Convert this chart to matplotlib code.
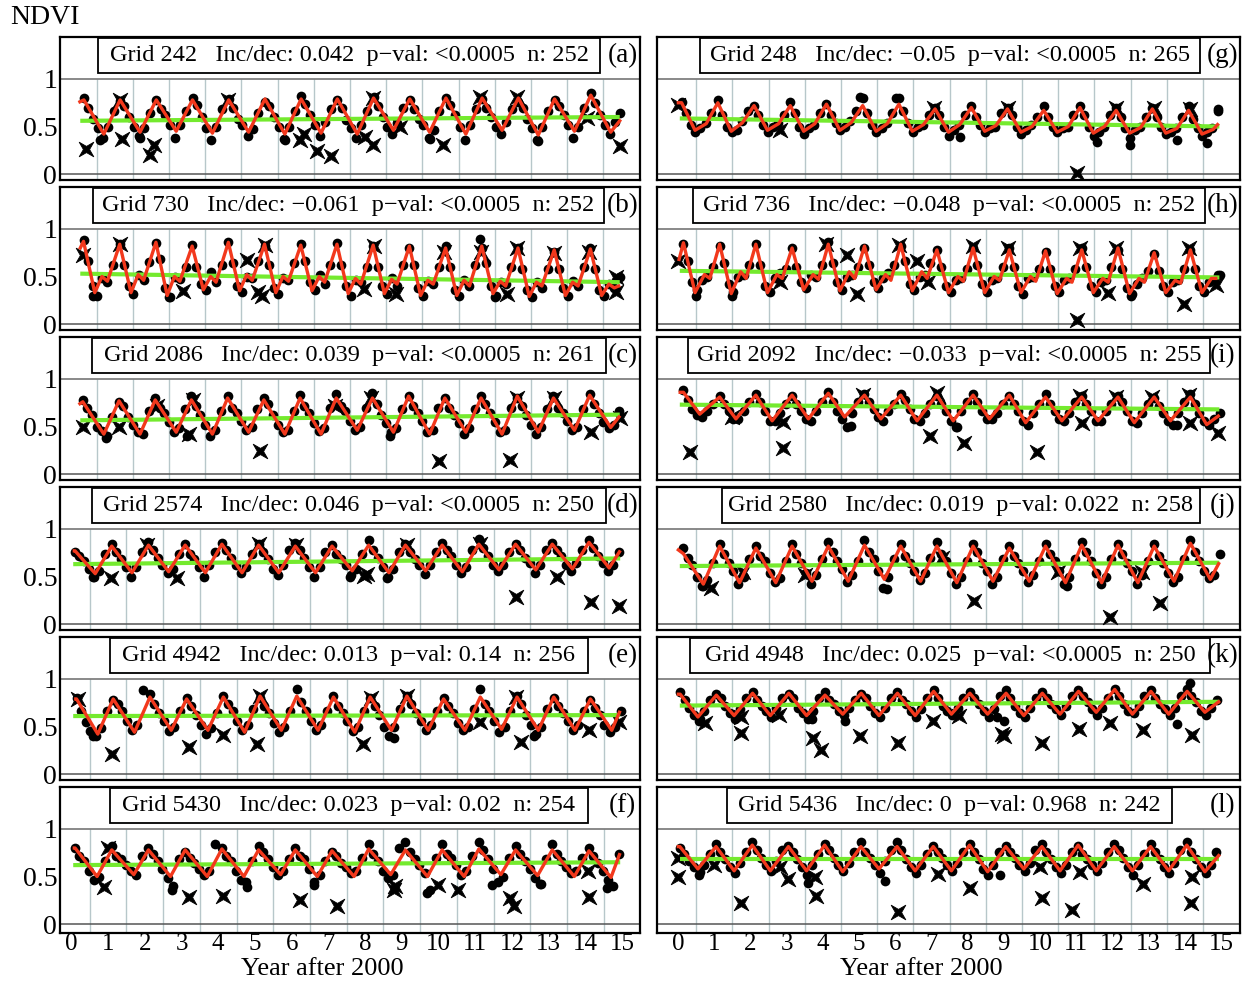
import numpy as np
import matplotlib.pyplot as plt
from matplotlib.patches import Rectangle
from matplotlib.path import Path

plt.rcParams['font.family'] = ['Liberation Serif', 'DejaVu Serif']

# ---- panel headers ----
letters = ['a', 'b', 'c', 'd', 'e', 'f', 'g', 'h', 'i', 'j', 'k', 'l']
grids = [242, 730, 2086, 2574, 4942, 5430, 248, 736, 2092, 2580, 4948, 5436]
incdec = ['0.042', '\u22120.061', '0.039', '0.046', '0.013', '0.023',
          '\u22120.05', '\u22120.048', '\u22120.033', '0.019', '0.025', '0']
pvals = ['<0.0005', '<0.0005', '<0.0005', '<0.0005', '0.14', '0.02',
         '<0.0005', '<0.0005', '<0.0005', '0.022', '<0.0005', '0.968']
counts = [252, 252, 261, 250, 256, 254, 265, 252, 255, 258, 250, 242]

# dot positions inside each season, measured from the peak
dot_off = [0.0, 0.12, 0.25, 0.38, 0.52, 0.66, 0.82]

# ---- (a) Grid 242 ----
a_trend = [0.56, 0.60]
a_ends = [(0.04, 0.76), (14.95, 0.56)]
a_peak = [0.78, 0.78, 0.78, 0.78, 0.78, 0.79, 0.79, 0.79, 0.80, 0.79, 0.80, 0.80, 0.80, 0.79, 0.83]
a_trough = [0.42, 0.44, 0.45, 0.43, 0.44, 0.42, 0.43, 0.42, 0.46, 0.44, 0.42, 0.46, 0.41, 0.45, 0.44]
a_red = [(0.15, a_peak), (0.70, a_trough)]
a_dots = [[.80, .70, .58, .48, .38, .50, .66], [.77, .72, .60, .50, .40, .48, .64],
          [.78, .68, .62, .52, .38, .52, .66], [.80, .73, .60, .48, .36, .50, .68],
          [.79, .70, .58, .52, .40, .47, .64], [.76, .72, .60, .50, .37, .50, .66],
          [.82, .74, .62, .52, .40, .55, .68], [.78, .70, .57, .48, .38, .52, .66],
          [.81, .72, .60, .50, .42, .54, .70], [.78, .68, .58, .52, .38, .46, .66],
          [.80, .73, .62, .50, .36, .52, .68], [.79, .70, .60, .50, .42, .55, .68],
          [.76, .70, .58, .48, .36, .50, .66], [.78, .72, .62, .52, .38, .50, .70],
          [.85, .75, .62, .52, .42, .55, .64]]
a_extra = [(0.6, 0.36), (1.7, 0.38), (5.7, 0.36), (9.7, 0.37), (12.7, 0.35)]
a_cross = [(0.21, 0.26), (1.20, 0.37), (1.98, 0.20), (2.09, 0.31), (6.12, 0.36), (6.23, 0.42),
           (6.59, 0.24), (6.98, 0.19), (8.14, 0.31), (7.92, 0.39), (8.88, 0.49), (10.07, 0.31),
           (14.05, 0.59), (14.96, 0.29), (1.15, 0.78), (8.14, 0.80), (11.1, 0.81), (12.1, 0.81),
           (4.13, 0.78)]

# ---- (b) Grid 730 ----
b_trend = [0.53, 0.44]
b_ends = [(0.05, 0.80), (14.92, 0.40)]
b_peak = [0.87, 0.84, 0.86, 0.82, 0.86, 0.84, 0.83, 0.84, 0.83, 0.82, 0.80, 0.82, 0.80, 0.78, 0.79]
b_trough = [0.33, 0.33, 0.30, 0.36, 0.35, 0.33, 0.35, 0.32, 0.32, 0.30, 0.30, 0.32, 0.29, 0.30, 0.30]
b_shoulder = [0.50, 0.52, 0.50, 0.50, 0.52, 0.50, 0.50, 0.48, 0.47, 0.46, 0.46, 0.45, 0.44, 0.44, 0.42]
b_dip = [0.45, 0.46, 0.45, 0.44, 0.46, 0.45, 0.44, 0.42, 0.42, 0.42, 0.40, 0.40, 0.40, 0.40, 0.38]
b_red = [(0.14, b_peak), (0.45, b_trough), (0.65, b_shoulder), (0.80, b_dip)]
b_dots = [[.88, .66, .40, .30, .48, .44, .62], [.84, .62, .40, .32, .52, .46, .65],
          [.85, .68, .38, .28, .50, .47, .60], [.83, .60, .42, .36, .55, .44, .62],
          [.86, .64, .40, .34, .50, .48, .66], [.82, .62, .38, .32, .48, .46, .64],
          [.84, .66, .44, .36, .52, .42, .62], [.85, .62, .40, .30, .46, .44, .60],
          [.82, .60, .40, .32, .48, .40, .62], [.80, .62, .38, .30, .45, .42, .60],
          [.82, .60, .36, .30, .46, .40, .62], [.80, .64, .40, .30, .44, .42, .60],
          [.80, .58, .36, .28, .44, .38, .58], [.76, .58, .38, .30, .45, .40, .60],
          [.80, .58, .36, .30, .42, .38, .50]]
b_extra = [(11.1, 0.89), (0.4, 0.30), (2.5, 0.28), (11.5, 0.28)]
b_cross = [(0.13, 0.73), (2.89, 0.35), (4.66, 0.67), (4.96, 0.34), (5.07, 0.30), (7.88, 0.37),
           (8.76, 0.32), (11.83, 0.32), (14.85, 0.50), (14.85, 0.34), (1.14, 0.84), (5.14, 0.83),
           (8.17, 0.82), (10.11, 0.76), (11.13, 0.76), (12.12, 0.80), (13.13, 0.75), (14.1, 0.76)]

# ---- (c) Grid 2086 ----
c_trend = [0.565, 0.625]
c_ends = [(0.04, 0.74), (14.93, 0.60)]
c_peak = [0.76, 0.77, 0.78, 0.78, 0.80, 0.78, 0.80, 0.80, 0.80, 0.82, 0.80, 0.80, 0.82, 0.80, 0.83]
c_trough = [0.42, 0.42, 0.44, 0.42, 0.44, 0.42, 0.42, 0.46, 0.44, 0.42, 0.44, 0.42, 0.44, 0.46, 0.49]
c_red = [(0.12, c_peak), (0.70, c_trough)]
c_dots = [[.78, .70, .62, .50, .45, .40, .60], [.76, .72, .60, .52, .44, .42, .66],
          [.80, .70, .64, .55, .44, .48, .68], [.82, .72, .62, .52, .40, .46, .66],
          [.82, .70, .64, .56, .46, .50, .68], [.80, .74, .62, .52, .44, .46, .66],
          [.83, .72, .64, .54, .45, .48, .70], [.84, .72, .66, .56, .46, .50, .70],
          [.85, .74, .62, .54, .44, .48, .68], [.82, .72, .64, .56, .44, .46, .70],
          [.80, .70, .62, .54, .42, .48, .68], [.82, .74, .64, .55, .44, .46, .70],
          [.80, .72, .62, .52, .42, .50, .68], [.82, .70, .64, .56, .46, .50, .68],
          [.84, .74, .64, .55, .48, .52, .66]]
c_extra = [(0.75, 0.38), (3.0, 0.40), (8.6, 0.40)]
c_cross = [(0.13, 0.49), (1.12, 0.49), (3.04, 0.42), (5.02, 0.24), (9.96, 0.14), (11.93, 0.15),
           (14.17, 0.44), (14.95, 0.585), (2.16, 0.72), (3.15, 0.78), (7.09, 0.72), (8.09, 0.80),
           (12.12, 0.80), (13.13, 0.80)]

# ---- (d) Grid 2574 ----
d_trend = [0.63, 0.69]
d_ends = [(0.08, 0.77), (14.93, 0.76)]
d_peak = [0.77, 0.82, 0.83, 0.83, 0.84, 0.83, 0.82, 0.82, 0.83, 0.83, 0.83, 0.84, 0.84, 0.84, 0.86]
d_trough = [0.53, 0.54, 0.55, 0.54, 0.54, 0.54, 0.54, 0.56, 0.54, 0.56, 0.55, 0.57, 0.57, 0.58, 0.59]
d_red = [(0.10, d_peak), (0.65, d_trough)]
d_dots = [[.76, .72, .66, .58, .50, .56, .74], [.84, .76, .68, .60, .50, .60, .76],
          [.86, .78, .70, .62, .54, .58, .74], [.84, .74, .68, .60, .50, .62, .76],
          [.85, .78, .70, .62, .54, .60, .74], [.84, .76, .68, .58, .52, .62, .78],
          [.85, .78, .70, .60, .50, .60, .76], [.83, .74, .68, .62, .52, .58, .74],
          [.88, .78, .70, .60, .50, .58, .76], [.84, .76, .68, .62, .53, .62, .76],
          [.85, .78, .72, .62, .54, .60, .78], [.90, .80, .72, .62, .56, .62, .76],
          [.84, .78, .70, .64, .54, .62, .78], [.85, .78, .72, .62, .56, .64, .78],
          [.88, .80, .72, .64, .56, .62, .76]]
d_extra = [(0.6, 0.49), (7.6, 0.49), (8.6, 0.48)]
d_cross = [(1.09, 0.48), (2.89, 0.48), (7.96, 0.51), (8.05, 0.53), (12.11, 0.28), (13.24, 0.49),
           (14.16, 0.23), (14.91, 0.19), (2.07, 0.83), (5.12, 0.84), (6.12, 0.83), (9.14, 0.83),
           (11.12, 0.84)]

# ---- (e) Grid 4942 ----
e_trend = [0.61, 0.62]
e_ends = [(0.12, 0.79), (14.93, 0.65)]
e_peak = [0.79, 0.79, 0.81, 0.79, 0.81, 0.82, 0.82, 0.81, 0.81, 0.82, 0.79, 0.81, 0.81, 0.81, 0.79]
e_trough = [0.42, 0.44, 0.46, 0.46, 0.44, 0.46, 0.46, 0.44, 0.46, 0.46, 0.46, 0.47, 0.46, 0.46, 0.46]
e_red = [(0.14, e_peak), (0.72, e_trough)]
e_dots = [[.80, .66, .55, .45, .40, .48, .66], [.78, .74, .66, .56, .46, .52, .88],
          [.84, .74, .64, .56, .45, .50, .66], [.80, .72, .62, .52, .42, .48, .64],
          [.82, .74, .66, .56, .46, .52, .68], [.80, .72, .64, .54, .44, .50, .66],
          [.89, .76, .66, .56, .46, .52, .66], [.82, .72, .64, .56, .45, .50, .66],
          [.80, .72, .62, .50, .40, .50, .68], [.82, .74, .64, .56, .46, .52, .66],
          [.80, .72, .64, .54, .46, .50, .68], [.90, .74, .66, .56, .44, .50, .66],
          [.82, .74, .62, .52, .42, .50, .68], [.80, .72, .64, .56, .46, .52, .66],
          [.78, .70, .62, .52, .44, .50, .66]]
e_extra = [(0.6, 0.40), (8.8, 0.38), (12.6, 0.40)]
e_cross = [(0.17, 0.79), (1.11, 0.21), (3.2, 0.28), (4.12, 0.41), (5.07, 0.32), (7.94, 0.32),
           (11.12, 0.55), (12.24, 0.34), (14.11, 0.46), (14.93, 0.55), (5.14, 0.82), (8.17, 0.80),
           (9.14, 0.82), (12.11, 0.81)]

# ---- (f) Grid 5430 ----
f_trend = [0.62, 0.65]
f_ends = [(0.08, 0.80), (14.93, 0.73)]
f_peak = [0.80, 0.78, 0.78, 0.78, 0.79, 0.78, 0.78, 0.77, 0.79, 0.78, 0.78, 0.79, 0.78, 0.78, 0.77]
f_trough = [0.50, 0.52, 0.50, 0.50, 0.50, 0.52, 0.50, 0.50, 0.52, 0.50, 0.50, 0.52, 0.51, 0.50, 0.49]
f_red = [(0.10, f_peak), (0.70, f_trough)]
f_dots = [[.80, .72, .66, .56, .46, .50, .66], [.82, .72, .68, .62, .56, .52, .72],
          [.80, .74, .66, .58, .48, .40, .68], [.76, .70, .64, .58, .52, .56, .84],
          [.80, .72, .66, .56, .46, .44, .66], [.82, .76, .68, .60, .52, .56, .68],
          [.80, .72, .68, .58, .44, .52, .66], [.76, .72, .64, .60, .54, .56, .70],
          [.84, .74, .66, .56, .48, .52, .80], [.86, .76, .68, .62, .54, .36, .70],
          [.84, .74, .70, .62, .52, .56, .72], [.86, .78, .68, .58, .44, .50, .70],
          [.82, .74, .66, .58, .48, .42, .68], [.84, .74, .66, .60, .54, .56, .70],
          [.80, .72, .64, .56, .46, .40, .74]]
f_extra = [(2.73, 0.36), (4.78, 0.39), (6.62, 0.41), (9.7, 0.33), (11.45, 0.41),
           (12.78, 0.42), (14.6, 0.38)]
f_cross = [(0.89, 0.39), (3.2, 0.28), (4.12, 0.30), (6.22, 0.25), (7.24, 0.19), (8.78, 0.36),
           (8.82, 0.40), (10.0, 0.41), (10.52, 0.36), (11.96, 0.27), (12.06, 0.19), (14.11, 0.28),
           (14.06, 0.56), (1.0, 0.80)]

# ---- (g) Grid 248 ----
g_trend = [0.585, 0.50]
g_ends = [(0.01, 0.75), (14.9, 0.52)]
g_peak = [0.75, 0.75, 0.72, 0.72, 0.735, 0.72, 0.735, 0.685, 0.70, 0.685, 0.67, 0.70, 0.67, 0.685, 0.67]
g_trough = [0.46, 0.45, 0.46, 0.45, 0.46, 0.45, 0.45, 0.44, 0.45, 0.44, 0.44, 0.43, 0.43, 0.43, 0.42]
g_shoulder = [0.53, 0.54, 0.53, 0.53, 0.54, 0.53, 0.52, 0.52, 0.51, 0.50, 0.50, 0.50, 0.49, 0.48, 0.47]
g_red = [(0.10, g_peak), (0.47, g_trough), (0.78, g_shoulder)]
g_dots = [[.76, .64, .52, .44, .48, .54, .64], [.78, .62, .50, .44, .46, .56, .66],
          [.72, .62, .52, .44, .50, .54, .62], [.76, .64, .50, .42, .48, .52, .64],
          [.74, .62, .54, .46, .50, .56, .66], [.80, .64, .52, .44, .48, .54, .64],
          [.80, .66, .54, .44, .50, .52, .62], [.70, .62, .50, .40, .46, .52, .62],
          [.72, .60, .52, .44, .48, .50, .64], [.70, .62, .50, .42, .46, .52, .60],
          [.72, .60, .50, .44, .48, .50, .62], [.72, .62, .50, .40, .44, .50, .62],
          [.70, .60, .48, .38, .46, .50, .60], [.70, .60, .50, .42, .44, .48, .60],
          [.72, .58, .48, .40, .44, .48, .66]]
g_extra = [(7.8, 0.39), (11.57, 0.34), (12.49, 0.31), (13.77, 0.36), (14.6, 0.33),
           (5.03, 0.81), (6.02, 0.80), (14.9, 0.68)]
g_cross = [(0.01, 0.73), (2.83, 0.46), (11.03, 0.01), (7.07, 0.69), (9.11, 0.70),
           (12.09, 0.69), (13.14, 0.69), (14.13, 0.68)]

# ---- (h) Grid 736 ----
h_trend = [0.56, 0.49]
h_ends = [(0.03, 0.68), (14.85, 0.48)]
h_peak = [0.855, 0.84, 0.84, 0.80, 0.84, 0.82, 0.84, 0.78, 0.80, 0.78, 0.77, 0.78, 0.80, 0.75, 0.78]
h_trough = [0.33, 0.32, 0.33, 0.36, 0.35, 0.36, 0.35, 0.33, 0.33, 0.33, 0.32, 0.33, 0.32, 0.33, 0.33]
h_shoulder = [0.52, 0.55, 0.52, 0.52, 0.55, 0.52, 0.55, 0.50, 0.50, 0.50, 0.48, 0.48, 0.48, 0.46, 0.48]
h_dip = [0.48, 0.48, 0.48, 0.47, 0.48, 0.46, 0.48, 0.45, 0.46, 0.45, 0.44, 0.44, 0.44, 0.43, 0.44]
h_red = [(0.15, h_peak), (0.47, h_trough), (0.73, h_shoulder), (0.88, h_dip)]
h_dots = [[.84, .66, .44, .36, .46, .50, .60], [.82, .64, .42, .34, .50, .52, .62],
          [.84, .62, .40, .34, .48, .54, .58], [.80, .60, .44, .38, .52, .50, .62],
          [.86, .64, .44, .36, .50, .52, .60], [.80, .62, .44, .38, .48, .54, .62],
          [.82, .66, .42, .36, .50, .52, .64], [.78, .60, .40, .34, .46, .48, .58],
          [.80, .62, .42, .34, .46, .48, .60], [.80, .60, .40, .32, .48, .50, .58],
          [.76, .58, .40, .34, .46, .48, .58], [.80, .60, .40, .34, .44, .46, .60],
          [.78, .58, .38, .32, .42, .48, .56], [.74, .56, .40, .34, .44, .46, .58],
          [.78, .58, .40, .34, .44, .46, .52]]
h_extra = [(0.5, 0.30), (1.5, 0.30), (12.5, 0.29), (14.9, 0.52)]
h_cross = [(0.01, 0.66), (2.83, 0.44), (4.66, 0.73), (4.93, 0.32), (6.6, 0.66), (6.91, 0.44),
           (11.03, 0.045), (11.88, 0.33), (13.98, 0.21), (14.87, 0.41), (4.1, 0.84), (6.1, 0.83),
           (8.15, 0.82), (9.1, 0.80), (11.1, 0.80), (12.1, 0.80), (14.1, 0.80)]

# ---- (i) Grid 2092 ----
i_trend = [0.73, 0.68]
i_ends = [(0.06, 0.86), (14.92, 0.61)]
i_peak = [0.86, 0.81, 0.83, 0.83, 0.85, 0.83, 0.83, 0.83, 0.83, 0.83, 0.81, 0.81, 0.81, 0.81, 0.81]
i_trough = [0.63, 0.58, 0.56, 0.58, 0.60, 0.58, 0.56, 0.56, 0.58, 0.54, 0.56, 0.56, 0.54, 0.56, 0.52]
i_red = [(0.15, i_peak), (0.60, i_trough)]
i_dots = [[.88, .78, .68, .62, .60, .66, .74], [.82, .74, .66, .58, .58, .66, .76],
          [.84, .76, .66, .56, .56, .64, .74], [.82, .74, .66, .58, .56, .66, .76],
          [.86, .76, .66, .58, .50, .64, .76], [.84, .76, .68, .60, .56, .66, .74],
          [.84, .78, .68, .58, .56, .64, .74], [.82, .74, .66, .56, .50, .66, .76],
          [.84, .76, .66, .58, .58, .64, .74], [.82, .74, .66, .56, .52, .64, .74],
          [.84, .74, .66, .58, .56, .64, .76], [.82, .74, .66, .56, .56, .66, .74],
          [.82, .76, .66, .56, .54, .64, .74], [.80, .72, .64, .56, .52, .64, .76],
          [.84, .74, .64, .56, .52, .58, .64]]
i_extra = [(4.77, 0.505), (7.7, 0.49), (13.77, 0.52)]
i_cross = [(0.32, 0.235), (2.89, 0.27), (6.97, 0.40), (7.91, 0.33), (9.92, 0.235), (14.92, 0.43),
           (14.13, 0.54), (11.15, 0.54), (2.9, 0.55), (1.5, 0.60), (5.1, 0.83), (7.15, 0.85),
           (11.1, 0.82), (12.1, 0.81), (13.1, 0.81), (14.1, 0.83)]

# ---- (j) Grid 2580 ----
j_trend = [0.61, 0.645]
j_ends = [(0.01, 0.78), (14.93, 0.635)]
j_peak = [0.74, 0.82, 0.80, 0.82, 0.82, 0.83, 0.82, 0.82, 0.82, 0.80, 0.82, 0.83, 0.83, 0.82, 0.85]
j_trough = [0.42, 0.435, 0.435, 0.45, 0.45, 0.47, 0.45, 0.435, 0.45, 0.45, 0.435, 0.435, 0.435, 0.45, 0.47]
j_red = [(0.15, j_peak), (0.70, j_trough)]
j_dots = [[.80, .70, .62, .50, .40, .46, .64], [.84, .74, .64, .56, .42, .50, .68],
          [.82, .72, .66, .54, .44, .48, .66], [.84, .74, .64, .54, .42, .52, .68],
          [.86, .76, .66, .58, .44, .52, .66], [.88, .76, .68, .56, .38, .50, .68],
          [.84, .72, .64, .56, .46, .54, .70], [.86, .74, .66, .54, .42, .50, .66],
          [.84, .76, .64, .56, .42, .50, .68], [.82, .72, .64, .56, .44, .52, .66],
          [.84, .74, .66, .56, .42, .50, .68], [.86, .76, .66, .54, .42, .50, .68],
          [.84, .74, .64, .56, .42, .52, .66], [.84, .72, .64, .54, .44, .50, .68],
          [.88, .76, .66, .56, .48, .52, .74]]
j_extra = [(5.76, 0.37), (0.7, 0.40), (10.75, 0.40)]
j_cross = [(0.9, 0.38), (8.17, 0.24), (11.94, 0.07), (13.3, 0.22), (1.8, 0.55), (3.5, 0.52),
           (7.3, 0.70), (10.5, 0.55), (12.8, 0.55)]

# ---- (k) Grid 4948 ----
k_trend = [0.72, 0.76]
k_ends = [(0.01, 0.84), (14.93, 0.76)]
k_peak = [0.84, 0.83, 0.85, 0.85, 0.83, 0.85, 0.85, 0.87, 0.85, 0.85, 0.85, 0.87, 0.89, 0.87, 0.87]
k_trough = [0.60, 0.615, 0.615, 0.615, 0.63, 0.615, 0.615, 0.63, 0.63, 0.615, 0.63, 0.65, 0.63, 0.63, 0.65]
k_red = [(0.06, k_peak), (0.55, k_trough)]
k_dots = [[.86, .78, .70, .62, .56, .66, .78], [.84, .80, .72, .64, .58, .68, .80],
          [.86, .78, .72, .66, .60, .70, .80], [.84, .80, .70, .64, .58, .66, .80],
          [.86, .78, .74, .66, .62, .70, .78], [.84, .80, .72, .64, .60, .70, .80],
          [.86, .78, .74, .66, .60, .68, .80], [.88, .80, .72, .66, .62, .70, .80],
          [.86, .80, .74, .66, .60, .68, .82], [.88, .80, .72, .64, .60, .70, .80],
          [.86, .80, .74, .68, .62, .72, .82], [.88, .82, .76, .68, .62, .70, .80],
          [.90, .82, .74, .66, .64, .72, .82], [.88, .80, .74, .68, .62, .70, .82],
          [.90, .82, .76, .66, .62, .70, .78]]
k_extra = [(4.61, 0.56), (13.77, 0.53), (14.13, 0.96), (0.6, 0.58), (3.7, 0.58),
           (8.8, 0.60), (9.0, 0.56)]
k_cross = [(0.74, 0.54), (1.73, 0.60), (1.73, 0.435), (2.78, 0.62), (3.72, 0.38), (3.95, 0.255),
           (5.03, 0.40), (6.08, 0.33), (7.05, 0.56), (7.75, 0.61), (8.95, 0.42), (9.0, 0.40),
           (10.05, 0.33), (11.08, 0.47), (11.94, 0.54), (12.85, 0.46), (14.19, 0.41)]

# ---- (l) Grid 5436 ----
l_trend = [0.68, 0.68]
l_ends = [(0.01, 0.815), (14.93, 0.72)]
l_peak = [0.815, 0.815, 0.83, 0.815, 0.83, 0.815, 0.815, 0.815, 0.83, 0.815, 0.815, 0.83, 0.815, 0.815, 0.83]
l_trough = [0.58, 0.56, 0.56, 0.56, 0.55, 0.58, 0.56, 0.56, 0.55, 0.58, 0.56, 0.56, 0.56, 0.56, 0.55]
l_red = [(0.05, l_peak), (0.55, l_trough)]
l_dots = [[.80, .74, .66, .60, .52, .62, .74], [.84, .76, .68, .60, .54, .64, .76],
          [.86, .78, .70, .62, .56, .66, .78], [.82, .76, .68, .60, .52, .62, .74],
          [.84, .78, .70, .62, .56, .64, .76], [.86, .76, .70, .62, .54, .66, .78],
          [.86, .78, .68, .60, .54, .62, .74], [.82, .76, .70, .62, .56, .64, .76],
          [.84, .76, .68, .58, .52, .62, .76], [.82, .76, .70, .62, .56, .64, .78],
          [.84, .76, .68, .60, .54, .62, .76], [.82, .74, .68, .62, .56, .64, .76],
          [.84, .78, .70, .60, .52, .62, .74], [.84, .76, .68, .60, .54, .64, .78],
          [.86, .76, .68, .60, .54, .62, .76]]
l_extra = [(5.71, 0.45), (3.6, 0.43), (0.6, 0.55), (8.9, 0.52)]
l_cross = [(0.01, 0.49), (0.01, 0.70), (1.0, 0.62), (1.73, 0.22), (2.83, 0.60), (3.04, 0.47),
           (3.77, 0.50), (3.8, 0.29), (6.08, 0.13), (7.18, 0.53), (8.07, 0.38), (10.05, 0.27),
           (10.0, 0.60), (10.89, 0.15), (11.1, 0.55), (12.83, 0.42), (14.19, 0.49), (14.17, 0.22)]

trends = [a_trend, b_trend, c_trend, d_trend, e_trend, f_trend,
          g_trend, h_trend, i_trend, j_trend, k_trend, l_trend]
ends = [a_ends, b_ends, c_ends, d_ends, e_ends, f_ends,
        g_ends, h_ends, i_ends, j_ends, k_ends, l_ends]
reds = [a_red, b_red, c_red, d_red, e_red, f_red,
        g_red, h_red, i_red, j_red, k_red, l_red]
dots = [a_dots, b_dots, c_dots, d_dots, e_dots, f_dots,
        g_dots, h_dots, i_dots, j_dots, k_dots, l_dots]
extras = [a_extra, b_extra, c_extra, d_extra, e_extra, f_extra,
          g_extra, h_extra, i_extra, j_extra, k_extra, l_extra]
crosses = [a_cross, b_cross, c_cross, d_cross, e_cross, f_cross,
           g_cross, h_cross, i_cross, j_cross, k_cross, l_cross]

# ---- layout (pixels of the 1244x982 figure) ----
W, H = 1244, 982
col_x = [60, 657]
col_w = [580, 583]
row_top = [37, 187, 337, 487, 637, 787]
row_h = [143, 143, 143, 143, 143, 146]
# title box left/right in axes fraction
box_lr = [(0.066, 0.931), (0.057, 0.938), (0.055, 0.941), (0.055, 0.941), (0.086, 0.910), (0.086, 0.910),
          (0.074, 0.931), (0.062, 0.940), (0.053, 0.949), (0.111, 0.931), (0.057, 0.949), (0.120, 0.883)]
xlims = [(-0.51, 15.51)] * 3 + [(-0.31, 15.49)] * 3 + [(-0.58, 15.52)] * 6

RED = '#f2381c'
GREEN = '#74ea2e'
GRID = '#b7c7ca'

# concave four-armed cross used for flagged observations
_ang = np.deg2rad(np.arange(45, 405, 45))
_rad = np.tile([1.0, 0.3], 4)
_pts = np.column_stack([_rad * np.cos(_ang), _rad * np.sin(_ang)])
star_x = Path(np.vstack([_pts, _pts[:1]]), closed=True)

fig = plt.figure(figsize=(W / 100, H / 100), dpi=100)

for idx in range(12):
    col, row = idx // 6, idx % 6
    hh = row_h[row]
    ax = fig.add_axes([col_x[col] / W, 1 - (row_top[row] + hh) / H, col_w[col] / W, hh / H])
    ax.set_xlim(*xlims[idx])
    # y=1 sits 42 px under the frame top, y=0 sits a few px above its bottom
    y_bot = -(hh - 137.0) / 95
    y_top = 1 + 42.0 / 95
    ax.set_ylim(y_bot, y_top)
    for sp in ax.spines.values():
        sp.set_linewidth(1.6)

    # grid: vertical lines at half years, horizontal at 0 and 1
    ax.vlines(np.arange(0.5, 15, 1.0), y_bot, 1.0, color=GRID, lw=1.0, zorder=1)
    ax.axhline(1.0, color='#6a6a6a', lw=1.1, zorder=1)
    ax.axhline(0.0, color='#555555', lw=1.1, zorder=1)

    # observations
    ph0 = reds[idx][0][0]
    tt, vv = [], []
    for yr, row_vals in enumerate(dots[idx]):
        for off, v in zip(dot_off, row_vals):
            tt.append(yr + ph0 + off)
            vv.append(v)
    for t, v in extras[idx]:
        tt.append(t)
        vv.append(v)
    ax.plot(tt, vv, 'o', color='black', ms=7, mew=0, zorder=3)

    cx = [c[0] for c in crosses[idx]]
    cy = [c[1] for c in crosses[idx]]
    ax.plot(cx, cy, linestyle='none', marker=star_x, color='black', ms=10.5, mew=0.6, zorder=3)

    # linear trend
    st, en = ends[idx]
    ax.plot([0.05, 14.95], trends[idx], color=GREEN, lw=3.0, zorder=4, solid_capstyle='butt')

    # seasonal fit
    verts = []
    for phase, vals in reds[idx]:
        for yr, v in enumerate(vals):
            verts.append((yr + phase, v))
    verts = sorted(p for p in verts if st[0] < p[0] < en[0])
    verts = [st] + verts + [en]
    ax.plot([p[0] for p in verts], [p[1] for p in verts], color=RED, lw=2.4, zorder=5)

    # header
    x0, x1 = box_lr[idx]
    yb = 1 - 36.0 / hh
    ax.add_patch(Rectangle((x0, yb), x1 - x0, 0.99 - yb, transform=ax.transAxes,
                           facecolor='white', edgecolor='black', lw=1.3, zorder=6))
    title = f'Grid {grids[idx]}   Inc/dec: {incdec[idx]}  p\u2212val: {pvals[idx]}  n: {counts[idx]}'
    ax.text((x0 + x1) / 2, (yb + 0.99) / 2, title, transform=ax.transAxes, ha='center', va='center',
            fontsize=17.5, zorder=7)
    ax.text(0.970, (yb + 0.99) / 2, f'({letters[idx]})', transform=ax.transAxes, ha='center',
            va='center', fontsize=19.5, zorder=7)

    if col == 0:
        ax.set_yticks([0, 0.5, 1])
        ax.set_yticklabels(['0', '0.5', '1'], fontsize=20)
    else:
        ax.set_yticks([])
    if row == 5:
        ax.set_xticks(range(16))
        ax.set_xticklabels([str(v) for v in range(16)], fontsize=18)
        ax.tick_params(axis='x', pad=0)
    else:
        ax.set_xticks([])
    ax.tick_params(length=0)
    ax.tick_params(axis='y', pad=2)

fig.text(10 / W, 1 - 18 / H, 'NDVI', fontsize=20, ha='left', va='center')
fig.text(322 / W, 1 - 969 / H, 'Year after 2000', fontsize=19, ha='center', va='center')
fig.text(921 / W, 1 - 969 / H, 'Year after 2000', fontsize=19, ha='center', va='center')

fig.savefig('out.png', dpi=100)
